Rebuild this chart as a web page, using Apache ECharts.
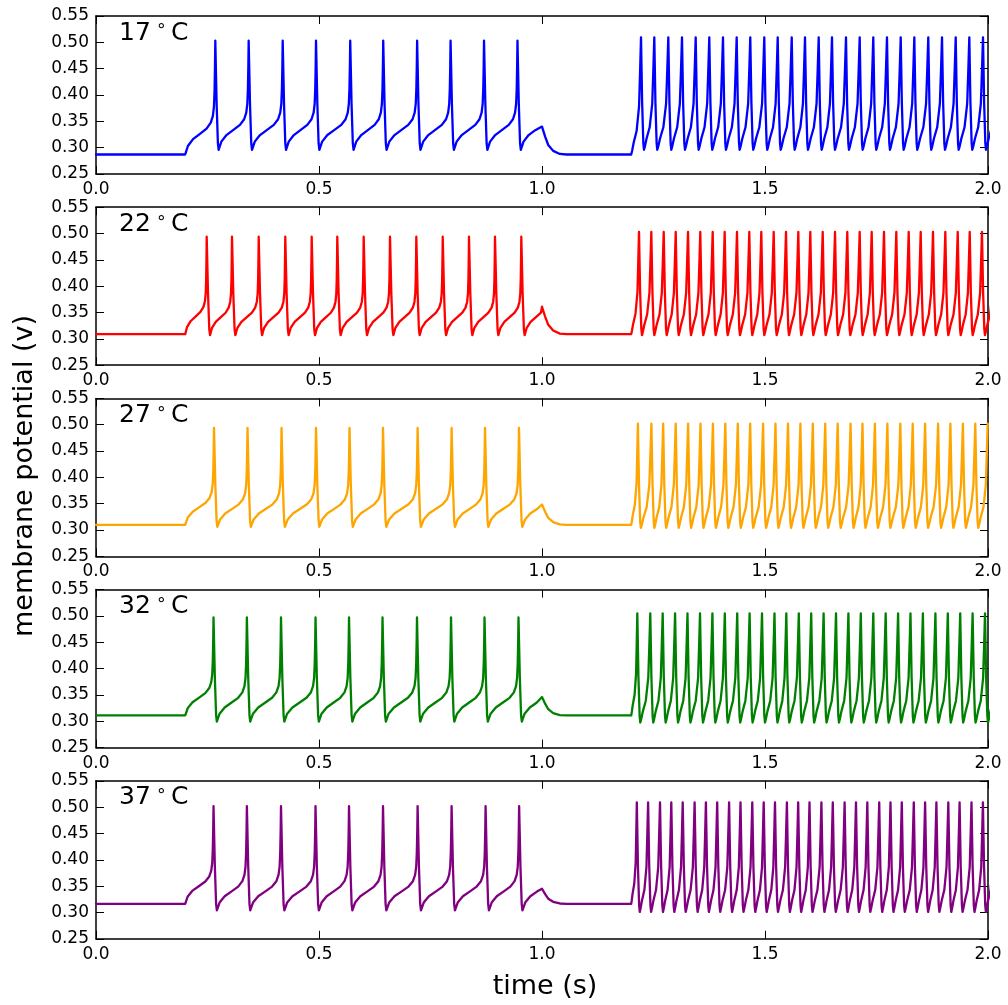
<!DOCTYPE html>
<html><head><meta charset="utf-8">
<script src="https://cdn.jsdelivr.net/npm/echarts@6/dist/echarts.min.js"></script>
<style>html,body{margin:0;padding:0;background:#fff}#c{width:1008px;height:1005px}</style>
</head><body><div id="c"></div>
<script>
// ---------------- data ----------------
const temps = ['17', '22', '27', '32', '37'];
const colors = ['#0000ff', '#ff0000', '#ffa500', '#008000', '#800080'];
const xTickStep = 0.5, xMin = 0, xMax = 2.0;
const yTickStep = 0.05, yMin = 0.25, yMax = 0.55;

const baseline = [0.287, 0.309, 0.310, 0.311, 0.3165];
const trough1  = [0.296, 0.307, 0.306, 0.2995, 0.304];
const peak1    = [0.503, 0.494, 0.494, 0.497, 0.502];
const bumpPeak = [0.340, 0.361, 0.3486, 0.346, 0.345];
const trough2  = [0.296, 0.307, 0.304, 0.2976, 0.301];
const peak2    = [0.5095, 0.503, 0.502, 0.505, 0.509];

const stimOn1 = 0.2, stimOff1 = 1.0, stimOn2 = 1.2;

// spike peak times (s), first stimulus
const spikes1_17 = [0.2675, 0.3423, 0.4186, 0.4933, 0.570, 0.644, 0.720, 0.795, 0.870, 0.945];
const spikes1_22 = [0.2482, 0.3049, 0.3648, 0.4244, 0.4836, 0.5410, 0.6002, 0.6592, 0.7182, 0.7774, 0.8363, 0.8946, 0.9536];
const spikes1_27 = [0.2646, 0.3397, 0.4160, 0.4933, 0.5684, 0.6435, 0.7211, 0.7973, 0.8722, 0.9484];
const spikes1_32 = [0.2635, 0.3383, 0.4148, 0.4922, 0.5673, 0.6424, 0.7197, 0.7960, 0.8711, 0.9473];
const spikes1_37 = [0.2635, 0.3383, 0.4148, 0.4922, 0.5673, 0.6435, 0.7211, 0.7973, 0.8735, 0.9487];

// spike peak times (s), second stimulus
const spikes2_17 = [1.2220, 1.2518, 1.2832, 1.3139, 1.3446, 1.3751, 1.4058, 1.4365, 1.4670, 1.4984, 1.5285, 1.5599, 1.5897,
  1.6204, 1.6502, 1.6816, 1.7123, 1.7428, 1.7735, 1.8043, 1.8348, 1.8661, 1.8969, 1.9276, 1.9581, 1.9888];
const spikes2_22 = [1.2175, 1.2451, 1.2729, 1.2998, 1.3274, 1.3549, 1.3827, 1.4096, 1.4372, 1.4648, 1.4917, 1.5195, 1.5471,
  1.5747, 1.6016, 1.6294, 1.6570, 1.6845, 1.7123, 1.7392, 1.7668, 1.7944, 1.8222, 1.8491, 1.8767, 1.9043, 1.9321, 1.9590, 1.9865];
const spikes2_27 = [1.2150, 1.2453, 1.2717, 1.2998, 1.3276, 1.3554, 1.3832, 1.4110, 1.4390, 1.4668, 1.4957, 1.5235, 1.5516,
  1.5794, 1.6072, 1.6350, 1.6630, 1.6919, 1.7186, 1.7464, 1.7744, 1.8034, 1.8312, 1.8590, 1.8881, 1.9157, 1.9437, 1.9715];
const spikes2_32 = [1.2137, 1.2428, 1.2706, 1.2984, 1.3262, 1.3543, 1.3821, 1.4099, 1.4377, 1.4655, 1.4933, 1.5213, 1.5478,
  1.5758, 1.6036, 1.6314, 1.6592, 1.6870, 1.7148, 1.7428, 1.7706, 1.7984, 1.8262, 1.8540, 1.8821, 1.9099, 1.9377, 1.9655, 1.9933];
const spikes2_37 = [1.2126, 1.2379, 1.2646, 1.2899, 1.3155, 1.3422, 1.3675, 1.3928, 1.4195, 1.4451, 1.4715, 1.4971, 1.5224,
  1.5491, 1.5744, 1.5998, 1.6265, 1.6520, 1.6785, 1.7040, 1.7294, 1.7561, 1.7814, 1.8067, 1.8336, 1.8590, 1.8843, 1.9110,
  1.9363, 1.9630, 1.9886];

// waveform shapes: [fraction of rise time, fraction of trough->peak]
const slowRise = [[0, 0], [0.03, 0.025], [0.09, 0.075], [0.26, 0.135], [0.48, 0.18], [0.71, 0.228], [0.85, 0.28], [0.92, 0.34],
  [0.955, 0.42], [0.975, 0.56], [0.99, 0.78], [1, 1]];
const fastRise = [[0, 0], [0.1, 0.035], [0.25, 0.10], [0.55, 0.20], [0.8, 0.41], [0.91, 0.72], [1, 1]];
// [seconds after peak, fraction of trough->peak]
const slowFall = [[0, 1], [0.003, 0.42], [0.0058, 0.06], [0.0075, 0]];
const fastFall = [[0, 1], [0.0025, 0.42], [0.0052, 0.06], [0.0067, 0]];
// [seconds after stimulus off, fraction of baseline->bump]
const offDecay = [[0, 1], [0.007, 0.64], [0.014, 0.34], [0.025, 0.13], [0.04, 0.02], [0.055, 0]];

const spikes1 = [spikes1_17, spikes1_22, spikes1_27, spikes1_32, spikes1_37];
const spikes2 = [spikes2_17, spikes2_22, spikes2_27, spikes2_32, spikes2_37];

// ---------------- build traces ----------------
function buildTrace(i) {
  const pts = [[xMin, baseline[i]], [stimOn1, baseline[i]]];
  function train(spk, riseT, fallT, pk, tr, startT, startV, stopT) {
    let t0 = startT, v0 = startV, lastRise = 0;
    spk.forEach(s => {
      for (let k = 1; k < riseT.length; k++)
        pts.push([t0 + riseT[k][0] * (s - t0), v0 + riseT[k][1] * (pk - v0)]);
      lastRise = s - t0;
      for (let k = 1; k < fallT.length; k++)
        pts.push([s + fallT[k][0], tr + fallT[k][1] * (pk - tr)]);
      t0 = s + fallT[fallT.length - 1][0];
      v0 = tr;
    });
    // partial recovery until the stimulus stops
    for (let k = 1; k < riseT.length; k++) {
      const t = t0 + riseT[k][0] * lastRise;
      if (t >= stopT) break;
      pts.push([t, v0 + riseT[k][1] * (pk - v0)]);
    }
  }
  train(spikes1[i], slowRise, slowFall, peak1[i], trough1[i], stimOn1, baseline[i], stimOff1);
  pts.push([stimOff1, bumpPeak[i]]);
  for (let k = 1; k < offDecay.length; k++)
    pts.push([stimOff1 + offDecay[k][0], baseline[i] + offDecay[k][1] * (bumpPeak[i] - baseline[i])]);
  pts.push([stimOn2, baseline[i]]);
  train(spikes2[i], fastRise, fastFall, peak2[i], trough2[i], stimOn2, baseline[i], xMax + 0.05);
  return pts;
}

// ---------------- chart ----------------
const chart = echarts.init(document.getElementById('c'), null, {renderer: 'canvas'});
const FONT = 'DejaVu Sans';
const gridLeft = 96, gridWidth = 892, gridTop0 = 16, gridPitch = 191.2, gridHeight = 158;
const grids = [], xAxes = [], yAxes = [], series = [], graphics = [];
const axLine = {show: true, onZero: false, lineStyle: {color: '#000', width: 1.5}};
const axTick = {show: true, inside: true, length: 8, lineStyle: {color: '#000', width: 1}};

temps.forEach((tc, i) => {
  const top = gridTop0 + i * gridPitch;
  grids.push({left: gridLeft, top: top, width: gridWidth, height: gridHeight, containLabel: false});
  const xBase = {type: 'value', gridIndex: i, min: xMin, max: xMax, interval: xTickStep,
    axisLine: axLine, axisTick: axTick, splitLine: {show: false}};
  xAxes.push(Object.assign({}, xBase, {position: 'bottom',
    axisLabel: {show: true, color: '#000', fontSize: 17, fontFamily: FONT, margin: 7,
      formatter: v => v.toFixed(1)}}));
  xAxes.push(Object.assign({}, xBase, {position: 'top', axisLabel: {show: false}}));
  const yBase = {type: 'value', gridIndex: i, min: yMin, max: yMax, interval: yTickStep,
    axisLine: axLine, axisTick: axTick, splitLine: {show: false}};
  yAxes.push(Object.assign({}, yBase, {position: 'left',
    axisLabel: {show: true, color: '#000', fontSize: 17, fontFamily: FONT, margin: 7,
      formatter: v => v.toFixed(2)}}));
  yAxes.push(Object.assign({}, yBase, {position: 'right', axisLabel: {show: false}}));
  series.push({type: 'line', xAxisIndex: 2 * i, yAxisIndex: 2 * i, data: buildTrace(i),
    showSymbol: false, symbol: 'none', animation: false, silent: true, clip: true,
    lineStyle: {color: colors[i], width: 2.3, join: 'round', cap: 'round'}, itemStyle: {color: colors[i]}});
  graphics.push({type: 'text', x: 119, y: top + 17,
    style: {text: tc, fontSize: 25, fontFamily: FONT, fill: '#000', verticalAlign: 'middle', align: 'left'}});
  graphics.push({type: 'text', x: 156, y: top + 11,
    style: {text: '\u2218', fontSize: 17, fontFamily: FONT, fill: '#000', verticalAlign: 'middle', align: 'left'}});
  graphics.push({type: 'text', x: 171, y: top + 17,
    style: {text: 'C', fontSize: 25, fontFamily: FONT, fill: '#000', verticalAlign: 'middle', align: 'left'}});
});

graphics.push({type: 'text', x: 25, y: 476, rotation: Math.PI / 2,
  style: {text: 'membrane potential (v)', fontSize: 27, fontFamily: FONT, fill: '#000',
    align: 'center', verticalAlign: 'middle'}});
graphics.push({type: 'text', x: 545, y: 987,
  style: {text: 'time (s)', fontSize: 27, fontFamily: FONT, fill: '#000',
    align: 'center', verticalAlign: 'middle'}});

chart.setOption({
  backgroundColor: '#fff',
  animation: false,
  grid: grids, xAxis: xAxes, yAxis: yAxes, series: series,
  graphic: {elements: graphics}
});
</script></body></html>
